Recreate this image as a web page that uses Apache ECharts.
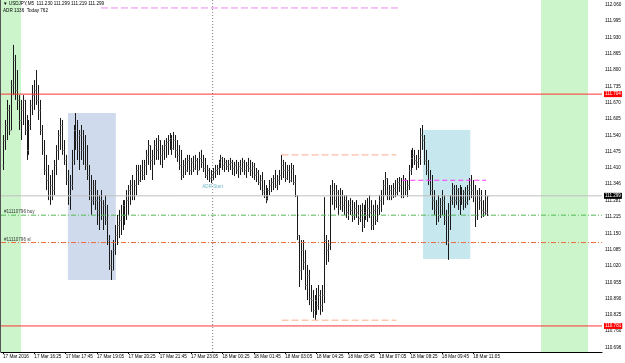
<!DOCTYPE html>
<html><head><meta charset="utf-8">
<script src="https://cdn.jsdelivr.net/npm/echarts@6/dist/echarts.min.js"></script>
<style>html,body{margin:0;padding:0;background:#fff}#c{width:625px;height:363px}</style>
</head><body><div id="c"></div>
<script>
// ---- data ----
const titleLine1 = "\u25BC USDJPY,M5  111.230 111.299 111.219 111.299";
const titleLine2 = "ADR 1336  Today 762";
const timeLabels = ["17 Mar 2016","17 Mar 16:25","17 Mar 17:45","17 Mar 19:05","17 Mar 20:25","17 Mar 21:45","17 Mar 23:05","18 Mar 00:25","18 Mar 01:45","18 Mar 03:05","18 Mar 04:25","18 Mar 05:45","18 Mar 07:05","18 Mar 08:25","18 Mar 09:45","18 Mar 11:05"];
const barsPerLabel = 16;
const priceTicks = ["112.060","111.995","111.930","111.865","111.800","111.735","111.670","111.605","111.540","111.475","111.410","111.346","111.281","111.215","111.150","111.085","111.020","110.955","110.890","110.825","110.760","110.696"];
// [open, high, low, close] per M5 bar
const bars = [
[111.422,111.541,111.402,111.521],[111.521,111.601,111.482,111.581],[111.581,111.681,111.521,111.641],[111.641,111.661,111.541,111.561],[111.561,111.760,111.561,111.740],
[111.740,111.900,111.700,111.840],[111.840,111.860,111.681,111.720],[111.720,111.800,111.641,111.681],[111.681,111.700,111.561,111.601],[111.601,111.681,111.521,111.641],
[111.641,111.700,111.581,111.681],[111.681,111.681,111.541,111.561],[111.561,111.621,111.442,111.482],[111.482,111.601,111.462,111.581],[111.581,111.681,111.561,111.661],
[111.661,111.740,111.621,111.700],[111.700,111.760,111.641,111.720],[111.720,111.800,111.661,111.681],[111.681,111.740,111.601,111.641],[111.641,111.681,111.541,111.561],
[111.561,111.581,111.462,111.482],[111.482,111.521,111.382,111.402],[111.402,111.462,111.322,111.362],[111.362,111.422,111.282,111.302],[111.302,111.382,111.263,111.342],
[111.342,111.402,111.282,111.322],[111.322,111.442,111.302,111.422],[111.422,111.501,111.382,111.482],[111.482,111.561,111.442,111.541],[111.541,111.609,111.482,111.581],
[111.581,111.601,111.462,111.482],[111.482,111.521,111.422,111.442],[111.442,111.462,111.342,111.362],[111.362,111.402,111.263,111.302],[111.302,111.382,111.243,111.342],
[111.342,111.482,111.322,111.442],[111.442,111.581,111.422,111.561],[111.561,111.629,111.482,111.521],[111.521,111.601,111.442,111.482],[111.482,111.561,111.402,111.541],
[111.541,111.581,111.442,111.482],[111.482,111.561,111.422,111.521],[111.521,111.541,111.402,111.422],[111.422,111.501,111.362,111.382],[111.382,111.422,111.282,111.322],
[111.322,111.382,111.223,111.282],[111.282,111.362,111.263,111.342],[111.342,111.362,111.243,111.282],[111.282,111.322,111.183,111.243],[111.243,111.302,111.163,111.282],
[111.282,111.322,111.203,111.223],[111.223,111.282,111.163,111.263],[111.263,111.302,111.183,111.203],[111.203,111.263,111.103,111.123],[111.123,111.143,111.004,111.024],
[111.024,111.083,110.964,111.004],[111.004,111.123,111.004,111.083],[111.083,111.183,111.064,111.143],[111.143,111.223,111.103,111.183],[111.183,111.243,111.131,111.203],
[111.203,111.263,111.143,111.223],[111.223,111.282,111.163,111.263],[111.263,111.282,111.183,111.223],[111.223,111.322,111.203,111.282],[111.282,111.342,111.223,111.322],
[111.322,111.362,111.263,111.342],[111.342,111.382,111.282,111.302],[111.302,111.362,111.282,111.342],[111.342,111.422,111.302,111.402],[111.402,111.422,111.342,111.362],
[111.362,111.422,111.354,111.402],[111.402,111.442,111.362,111.382],[111.382,111.442,111.362,111.422],[111.422,111.482,111.382,111.462],[111.462,111.521,111.422,111.501],
[111.501,111.501,111.402,111.442],[111.442,111.482,111.362,111.462],[111.462,111.521,111.422,111.501],[111.501,111.529,111.442,111.482],[111.482,111.541,111.442,111.521],
[111.521,111.521,111.422,111.462],[111.462,111.501,111.410,111.482],[111.482,111.521,111.442,111.501],[111.501,111.529,111.450,111.513],[111.513,111.541,111.462,111.521],
[111.521,111.549,111.482,111.529],[111.529,111.541,111.462,111.490],[111.490,111.553,111.482,111.521],[111.521,111.541,111.450,111.482],[111.482,111.521,111.434,111.462],
[111.462,111.501,111.402,111.422],[111.422,111.482,111.362,111.382],[111.382,111.442,111.370,111.422],[111.422,111.450,111.382,111.402],[111.402,111.462,111.394,111.442],
[111.442,111.462,111.382,111.402],[111.402,111.450,111.382,111.434],[111.434,111.458,111.394,111.410],[111.410,111.462,111.402,111.442],[111.442,111.450,111.382,111.402],
[111.402,111.474,111.402,111.450],[111.450,111.482,111.410,111.434],[111.434,111.462,111.394,111.410],[111.410,111.450,111.370,111.382],[111.382,111.422,111.362,111.402],
[111.402,111.410,111.354,111.370],[111.370,111.402,111.350,111.382],[111.382,111.410,111.362,111.394],[111.394,111.422,111.370,111.402],[111.402,111.422,111.382,111.410],
[111.410,111.442,111.382,111.434],[111.434,111.462,111.410,111.450],[111.450,111.454,111.402,111.422],[111.422,111.450,111.394,111.434],[111.434,111.442,111.402,111.418],
[111.418,111.442,111.394,111.426],[111.426,111.450,111.402,111.434],[111.434,111.442,111.382,111.410],[111.410,111.434,111.378,111.422],[111.422,111.442,111.386,111.402],
[111.402,111.434,111.370,111.418],[111.418,111.442,111.382,111.410],[111.410,111.450,111.394,111.434],[111.434,111.442,111.382,111.402],[111.402,111.434,111.370,111.422],
[111.422,111.450,111.394,111.410],[111.410,111.442,111.378,111.402],[111.402,111.434,111.370,111.418],[111.418,111.430,111.362,111.382],[111.382,111.410,111.354,111.394],
[111.394,111.402,111.342,111.354],[111.354,111.382,111.322,111.362],[111.362,111.394,111.302,111.314],[111.322,111.362,111.290,111.302],[111.302,111.342,111.270,111.282],
[111.290,111.330,111.282,111.322],[111.322,111.362,111.302,111.342],[111.342,111.370,111.314,111.354],[111.354,111.382,111.322,111.370],[111.370,111.402,111.330,111.342],
[111.342,111.382,111.322,111.362],[111.362,111.402,111.342,111.382],[111.382,111.462,111.362,111.422],[111.422,111.442,111.370,111.402],[111.402,111.434,111.354,111.370],
[111.370,111.422,111.362,111.402],[111.402,111.422,111.350,111.362],[111.362,111.430,111.354,111.410],[111.410,111.422,111.342,111.354],[111.354,111.382,111.294,111.302],
[111.302,111.302,111.123,111.143],[111.143,111.143,110.936,111.004],[111.004,111.123,110.964,111.083],[111.083,111.123,111.004,111.036],[111.036,111.083,110.924,110.944],
[110.944,111.024,110.884,110.984],[110.984,111.004,110.864,110.892],[110.892,110.944,110.837,110.884],[110.884,110.924,110.813,110.845],[110.845,110.904,110.805,110.884],
[110.884,110.932,110.825,110.864],[110.864,110.944,110.845,110.904],[110.904,110.924,110.825,110.864],[110.864,110.944,110.837,110.904],[110.904,111.294,110.872,111.123],
[111.123,111.143,111.024,111.083],[111.083,111.123,111.036,111.103],[111.103,111.342,111.083,111.302],[111.302,111.362,111.263,111.322],[111.322,111.350,111.243,111.282],
[111.282,111.342,111.251,111.314],[111.314,111.322,111.223,111.263],[111.263,111.330,111.243,111.302],[111.302,111.322,111.235,111.263],[111.263,111.302,111.223,111.282],
[111.282,111.302,111.211,111.235],[111.235,111.282,111.203,111.263],[111.263,111.290,111.223,111.243],[111.243,111.282,111.195,111.223],[111.223,111.274,111.203,111.251],
[111.251,111.282,111.211,111.235],[111.235,111.263,111.183,111.211],[111.211,111.263,111.195,111.243],[111.243,111.270,111.155,111.183],[111.183,111.263,111.171,111.235],
[111.235,111.282,111.203,111.223],[111.223,111.290,111.195,111.251],[111.251,111.302,111.211,111.235],[111.235,111.282,111.163,111.183],[111.183,111.263,111.163,111.243],
[111.243,111.282,111.183,111.203],[111.203,111.263,111.195,111.251],[111.251,111.302,111.223,111.282],[111.282,111.322,111.235,111.302],[111.302,111.362,111.263,111.342],
[111.342,111.394,111.302,111.370],[111.370,111.370,111.282,111.302],[111.302,111.342,111.282,111.322],[111.322,111.342,111.282,111.302],[111.302,111.350,111.290,111.330],
[111.330,111.362,111.294,111.314],[111.314,111.370,111.302,111.354],[111.354,111.374,111.314,111.342],[111.342,111.370,111.290,111.302],[111.302,111.382,111.290,111.362],
[111.362,111.370,111.302,111.322],[111.322,111.362,111.294,111.342],[111.342,111.422,111.322,111.402],[111.402,111.482,111.382,111.450],[111.450,111.490,111.410,111.462],
[111.462,111.482,111.422,111.442],[111.442,111.462,111.402,111.434],[111.434,111.482,111.410,111.450],[111.450,111.569,111.422,111.541],[111.541,111.581,111.482,111.521],
[111.521,111.541,111.422,111.442],[111.442,111.482,111.382,111.402],[111.402,111.442,111.342,111.362],[111.362,111.402,111.302,111.322],[111.322,111.382,111.243,111.282],
[111.282,111.322,111.223,111.243],[111.243,111.282,111.183,111.263],[111.263,111.302,111.195,111.223],[111.223,111.290,111.211,111.263],[111.263,111.322,111.223,111.282],
[111.282,111.302,111.183,111.203],[111.203,111.243,111.103,111.123],[111.123,111.270,111.044,111.223],[111.223,111.302,111.163,111.282],[111.282,111.350,111.263,111.330],
[111.330,111.342,111.251,111.282],[111.282,111.342,111.263,111.322],[111.322,111.330,111.243,111.282],[111.282,111.342,111.223,111.302],[111.302,111.334,111.263,111.290],
[111.290,111.322,111.243,111.314],[111.314,111.334,111.251,111.274],[111.274,111.342,111.263,111.322],[111.322,111.370,111.282,111.342],[111.342,111.382,111.290,111.322],
[111.322,111.362,111.274,111.302],[111.302,111.342,111.175,111.223],[111.223,111.322,111.203,111.302],[111.302,111.330,111.243,111.282],[111.282,111.322,111.211,111.243],
[111.243,111.282,111.215,111.235],[111.235,111.322,111.223,111.240],[111.230,111.299,111.219,111.299]
];
// levels and zones (x in bar index units, y in price)
const redHigh = 111.704, redLow = 110.781, bidPrice = 111.299;
const buyLevel = 111.222, slLevel = 111.113;
const buyText = "#11110796 buy", slText = "#11110796 sl";
const daySeparatorBar = 107;
const adrText = "ADR Start", adrTextPrice = 111.334;
const greenZones = [[-1.02, 9.2], [274.6, 298.6]];
const blueBox = {x: [33.1, 57.6], y: [111.629, 110.964]};
const cyanBox = {x: [214.4, 238.5], y: [111.561, 111.048]};
const pinkTop = {x: [50, 201.8], y: 112.047};
const salmonHigh = {x: [142.2, 200.8], y: 111.462};
const salmonLow = {x: [142.2, 200.8], y: 110.804};
const magentaLine = {x: [203.8, 246.6], y: 111.361};
// axis extent
const xMin = -1.02, xMax = 305.73, yMin = 110.6773, yMax = 112.0787;

const FONT = 'Liberation Sans';
const FS = 4.6;
const chart = echarts.init(document.getElementById('c'), null, {renderer: 'canvas'});
const tickVals = priceTicks.map(Number);
const timeVals = timeLabels.map((_, k) => k * barsPerLabel);

function lineSeries(x0, x1, y0, y1, color, type, z) {
  return {type: 'line', z: z || 4, silent: true, symbol: 'none', animation: false,
    data: [[x0, y0], [x1, y1]], lineStyle: {color: color, type: type, width: 1}, itemStyle: {color: color}};
}
function levelLine(level, color, type, labelCfg) {
  const s = lineSeries(xMin, xMax, level, level, color, type, 4);
  if (labelCfg) s.endLabel = Object.assign({show: true, fontSize: FS, fontFamily: FONT}, labelCfg);
  return s;
}
function axisTag(text, bg) {
  return {formatter: text, color: '#fff', backgroundColor: bg, padding: [1, 1, 0, 1], distance: 2};
}

const option = {
  animation: false,
  backgroundColor: '#fff',
  grid: {left: 0, right: 23, top: 0, bottom: 11, containLabel: false},
  xAxis: {
    type: 'value', min: xMin, max: xMax,
    axisLine: {show: true, lineStyle: {color: '#000', width: 1}},
    axisTick: {show: true, customValues: timeVals, length: 2, lineStyle: {color: '#000'}},
    axisLabel: {customValues: timeVals, formatter: v => timeLabels[Math.round(v / barsPerLabel)] || '',
      align: 'left', margin: 2, fontSize: FS, fontFamily: FONT, color: '#000'},
    splitLine: {show: false}
  },
  yAxis: {
    type: 'value', position: 'right', min: yMin, max: yMax,
    axisLine: {show: true, lineStyle: {color: '#000', width: 1}},
    axisTick: {show: true, customValues: tickVals, length: 2, lineStyle: {color: '#000'}},
    axisLabel: {customValues: tickVals, formatter: v => {const k = tickVals.indexOf(v); return k >= 0 ? priceTicks[k] : '';},
      margin: 3, fontSize: FS, fontFamily: FONT, color: '#000'},
    splitLine: {show: false}
  },
  graphic: [
    {type: 'line', shape: {x1: 0.5, y1: 0, x2: 0.5, y2: 352}, style: {stroke: '#555', lineWidth: 1}, z: 10},
    {type: 'text', left: 3, top: 1, style: {text: titleLine1, fontSize: FS, fontFamily: FONT, fill: '#000'}, z: 10},
    {type: 'text', left: 3, top: 8, style: {text: titleLine2, fontSize: FS, fontFamily: FONT, fill: '#000'}, z: 10}
  ],
  series: [
    {
      type: 'line', data: [], z: 1, silent: true,
      markArea: {
        silent: true,
        data: [
          ...greenZones.map(g => [{coord: [g[0], yMax], itemStyle: {color: '#ccf5cc', opacity: 1}}, {coord: [g[1], yMin]}]),
          [{coord: [blueBox.x[0], blueBox.y[0]], itemStyle: {color: '#cfdbec', opacity: 1}}, {coord: [blueBox.x[1], blueBox.y[1]]}],
          [{coord: [cyanBox.x[0], cyanBox.y[0]], itemStyle: {color: '#c6e7ee', opacity: 1}}, {coord: [cyanBox.x[1], cyanBox.y[1]]}]
        ]
      }
    },
    lineSeries(daySeparatorBar, daySeparatorBar, yMin, yMax, '#808080', [1, 2], 2),
    levelLine(bidPrice, '#c0c0c0', 'solid', axisTag(bidPrice.toFixed(3), '#000')),
    levelLine(redHigh, '#ff3333', 'solid', axisTag(redHigh.toFixed(3), '#ff0000')),
    levelLine(redLow, '#ff3333', 'solid', axisTag(redLow.toFixed(3), '#ff0000')),
    levelLine(buyLevel, '#55b855', [5, 2, 1, 2]),
    levelLine(slLevel, '#ee6a3c', [5, 2, 1, 2]),
    lineSeries(pinkTop.x[0], pinkTop.x[1], pinkTop.y, pinkTop.y, '#ee88ee', [7, 3]),
    lineSeries(salmonHigh.x[0], salmonHigh.x[1], salmonHigh.y, salmonHigh.y, '#ffab8a', [7, 3]),
    lineSeries(salmonLow.x[0], salmonLow.x[1], salmonLow.y, salmonLow.y, '#ffab8a', [7, 3]),
    lineSeries(magentaLine.x[0], magentaLine.x[1], magentaLine.y, magentaLine.y, '#ff33ff', [5, 3]),
    {
      type: 'custom', z: 3, silent: true,
      data: bars.map((b, i) => [i, b[0], b[1], b[2], b[3]]),
      encode: {x: 0, y: [1, 2, 3, 4]},
      renderItem: function (params, api) {
        const i = api.value(0);
        const pO = api.coord([i, api.value(1)]);
        const pH = api.coord([i, api.value(2)]);
        const pL = api.coord([i, api.value(3)]);
        const pC = api.coord([i, api.value(4)]);
        const x = Math.round(pH[0]) + 0.5;
        const st = {stroke: '#1a1a1a', lineWidth: 1};
        return {type: 'group', children: [
          {type: 'line', shape: {x1: x, y1: pH[1], x2: x, y2: pL[1]}, style: st},
          {type: 'line', shape: {x1: x - 1, y1: Math.round(pO[1]) + 0.5, x2: x, y2: Math.round(pO[1]) + 0.5}, style: {stroke: '#777', lineWidth: 1}},
          {type: 'line', shape: {x1: x, y1: Math.round(pC[1]) + 0.5, x2: x + 1, y2: Math.round(pC[1]) + 0.5}, style: {stroke: '#777', lineWidth: 1}}
        ]};
      }
    },
    {
      type: 'scatter', z: 6, silent: true, symbolSize: 0,
      data: [[daySeparatorBar, adrTextPrice]],
      label: {show: true, position: 'inside', formatter: adrText, color: '#4aa3b8', fontSize: FS, fontFamily: FONT}
    },
    {
      type: 'scatter', z: 6, silent: true, symbolSize: 0,
      data: [[xMin, buyLevel, buyText], [xMin, slLevel, slText]],
      label: {show: true, position: 'right', offset: [1, -3], distance: 2, formatter: p => p.data[2], color: '#000', fontSize: FS, fontFamily: FONT}
    }
  ]
};
chart.setOption(option);
</script></body></html>
